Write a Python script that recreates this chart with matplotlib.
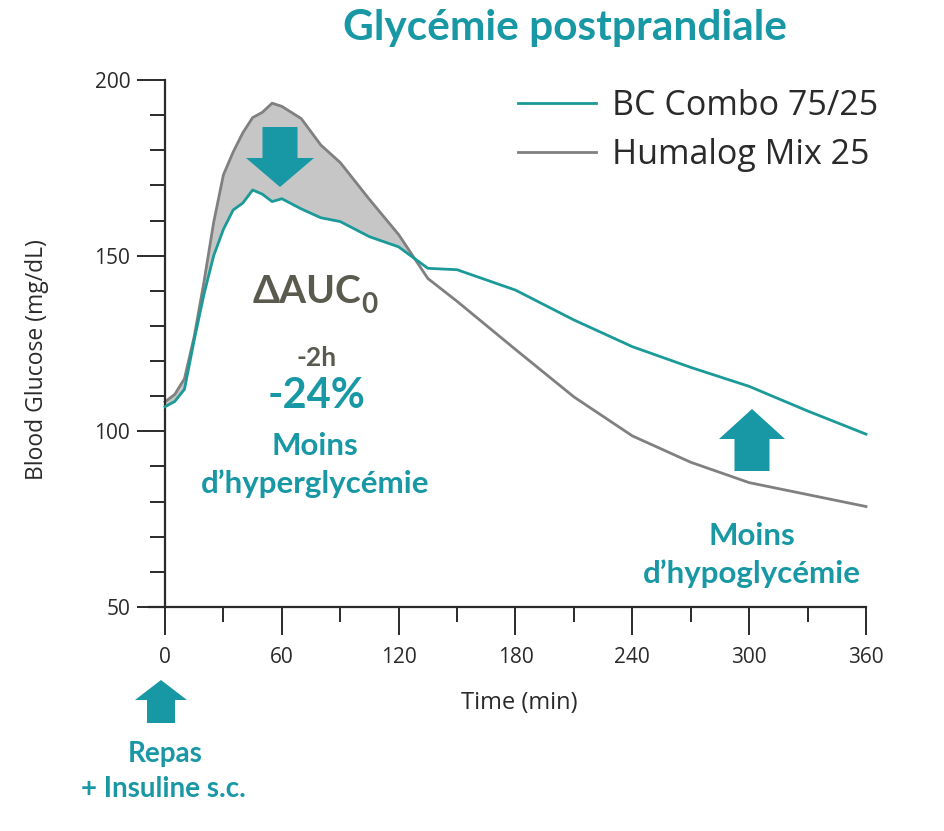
import matplotlib
matplotlib.use("Agg")
import matplotlib.pyplot as plt
import matplotlib.transforms as mtransforms
from matplotlib.patches import FancyArrow
import numpy as np

# time grid (min) and read-off glucose values (mg/dL)
time_min = [0, 5, 10, 15, 20, 25, 30, 35, 40, 45, 50, 55, 60, 70, 80, 90,
            105, 120, 135, 150, 180, 210, 240, 270, 300, 330, 360]
bc_combo = [107, 108.5, 112, 126, 139, 150, 157.5, 163, 165, 168.7, 167.5, 165.4,
            166.2, 163.3, 160.8, 159.7, 155.4, 152.5, 146.4, 146, 140.2, 131.7,
            124.1, 118.2, 112.8, 105.8, 99.2]
humalog = [108.4, 110.5, 115, 127, 142.5, 159.5, 173, 179.5, 185, 189.3, 190.8, 193.4,
           192.5, 189, 181.5, 176.5, 166, 156, 143.5, 137, 123.3, 109.8, 98.7, 91.2,
           85.4, 82, 78.6]
series_labels = ["BC Combo 75/25", "Humalog Mix 25"]
x_ticks = [0, 60, 120, 180, 240, 300, 360]
y_ticks = [50, 100, 150, 200]

TEAL_LINE = "#1a9a98"
TEAL = "#1897a4"
GREY_LINE = "#808080"
GREY_FILL = "#c6c6c6"
DARK = "#2a2a2a"
OLIVE = "#5b5a4f"

W, H = 945, 831
fig = plt.figure(figsize=(W / 100, H / 100), dpi=100)
fig.patch.set_facecolor("white")
# transform in reference-image pixels (origin top-left)
px = mtransforms.Affine2D().scale(1 / W, -1 / H).translate(0, 1) + fig.transFigure

ax = fig.add_axes([165 / W, 1 - 607 / H, 701 / W, 527 / H])
t = np.array(time_min)
bc = np.array(bc_combo)
hm = np.array(humalog)

ax.fill_between(t, bc, hm, where=hm > bc, interpolate=True, color=GREY_FILL, lw=0, zorder=1)
ax.plot(t, hm, color=GREY_LINE, lw=2.0, label=series_labels[1], zorder=2, clip_on=False)
ax.plot(t, bc, color=TEAL_LINE, lw=2.0, label=series_labels[0], zorder=3, clip_on=False)

ax.set_xlim(0, 360)
ax.set_ylim(50, 200)
ax.set_xticks(x_ticks)
ax.set_xticks(np.arange(0, 361, 30), minor=True)
ax.set_yticks(y_ticks)
ax.set_yticks(np.arange(50, 201, 10), minor=True)
for side in ("top", "right"):
    ax.spines[side].set_visible(False)
for side in ("left", "bottom"):
    ax.spines[side].set_linewidth(1.6)
    ax.spines[side].set_color(DARK)
ax.spines["bottom"].set_bounds(-8, 360)

ax.tick_params(axis="both", which="major", length=20, width=1.4, color=DARK)
ax.tick_params(axis="both", which="minor", length=11, width=1.4, color=DARK)
ax.tick_params(axis="x", which="major", pad=9)
ax.tick_params(axis="y", which="major", pad=5)
for lab in ax.get_xticklabels() + ax.get_yticklabels():
    lab.set_fontfamily("Open Sans")
    lab.set_fontsize(15)
    lab.set_color(DARK)

ax.set_xlabel("Time (min)", fontfamily="Open Sans", fontsize=17, color=DARK)
ax.xaxis.set_label_coords(0.505, -0.16)
ax.set_ylabel("Blood Glucose (mg/dL)", fontfamily="Open Sans", fontsize=16.5, color=DARK)
ax.yaxis.set_label_coords(-0.165, 0.47)

leg = ax.legend(handles=ax.get_lines()[::-1], loc="upper left",
                bbox_to_anchor=(518, 89), bbox_transform=px,
                frameon=False, borderpad=0, borderaxespad=0,
                handlelength=2.3, handletextpad=0.45, labelspacing=0.45,
                prop={"family": "Open Sans", "size": 24.5})
for txt in leg.get_texts():
    txt.set_color(DARK)

# title
fig.text(565, 40, "Glycémie postprandiale", transform=px, ha="center", va="baseline",
         fontfamily="Lato", fontweight="bold", fontsize=30.5, color=TEAL)

# annotations
fig.text(253, 303, "ΔAUC", transform=px, ha="left", va="baseline",
         family=["Lato", "DejaVu Sans"], fontweight="bold", fontsize=28, color=OLIVE)
fig.text(361, 313, "0", transform=px, ha="left", va="baseline",
         fontfamily="Lato", fontweight="bold", fontsize=20, color=OLIVE)
fig.text(317, 366, "-2h", transform=px, ha="center", va="baseline",
         fontfamily="Lato", fontweight="bold", fontsize=19, color=OLIVE)
fig.text(317, 408, "-24%", transform=px, ha="center", va="baseline",
         fontfamily="Lato", fontweight="bold", fontsize=30, color=TEAL)
fig.text(315, 455, "Moins", transform=px, ha="center", va="baseline",
         fontfamily="Lato", fontweight="bold", fontsize=22.5, color=TEAL)
fig.text(315, 493, "d’hyperglycémie", transform=px, ha="center", va="baseline",
         fontfamily="Lato", fontweight="bold", fontsize=22.5, color=TEAL)
fig.text(752, 545, "Moins", transform=px, ha="center", va="baseline",
         fontfamily="Lato", fontweight="bold", fontsize=22.5, color=TEAL)
fig.text(752, 583, "d’hypoglycémie", transform=px, ha="center", va="baseline",
         fontfamily="Lato", fontweight="bold", fontsize=22.5, color=TEAL)
fig.text(165, 762, "Repas", transform=px, ha="center", va="baseline",
         fontfamily="Lato", fontweight="bold", fontsize=20, color=TEAL)
fig.text(163, 797, "+ Insuline s.c.", transform=px, ha="center", va="baseline",
         fontfamily="Lato", fontweight="bold", fontsize=20, color=TEAL)


def block_arrow(cx, tail_y, tip_y, width, head_width, head_length):
    fig.patches.append(FancyArrow(cx, tail_y, 0, tip_y - tail_y, width=width,
                                  head_width=head_width, head_length=head_length,
                                  length_includes_head=True, transform=px,
                                  color=TEAL, lw=0))


block_arrow(280, 127, 187, 35, 68, 29)
block_arrow(752, 471, 409, 35, 66, 30)
block_arrow(161, 723, 680, 28, 52, 20)

fig.savefig("out.png", dpi=100, facecolor="white")
